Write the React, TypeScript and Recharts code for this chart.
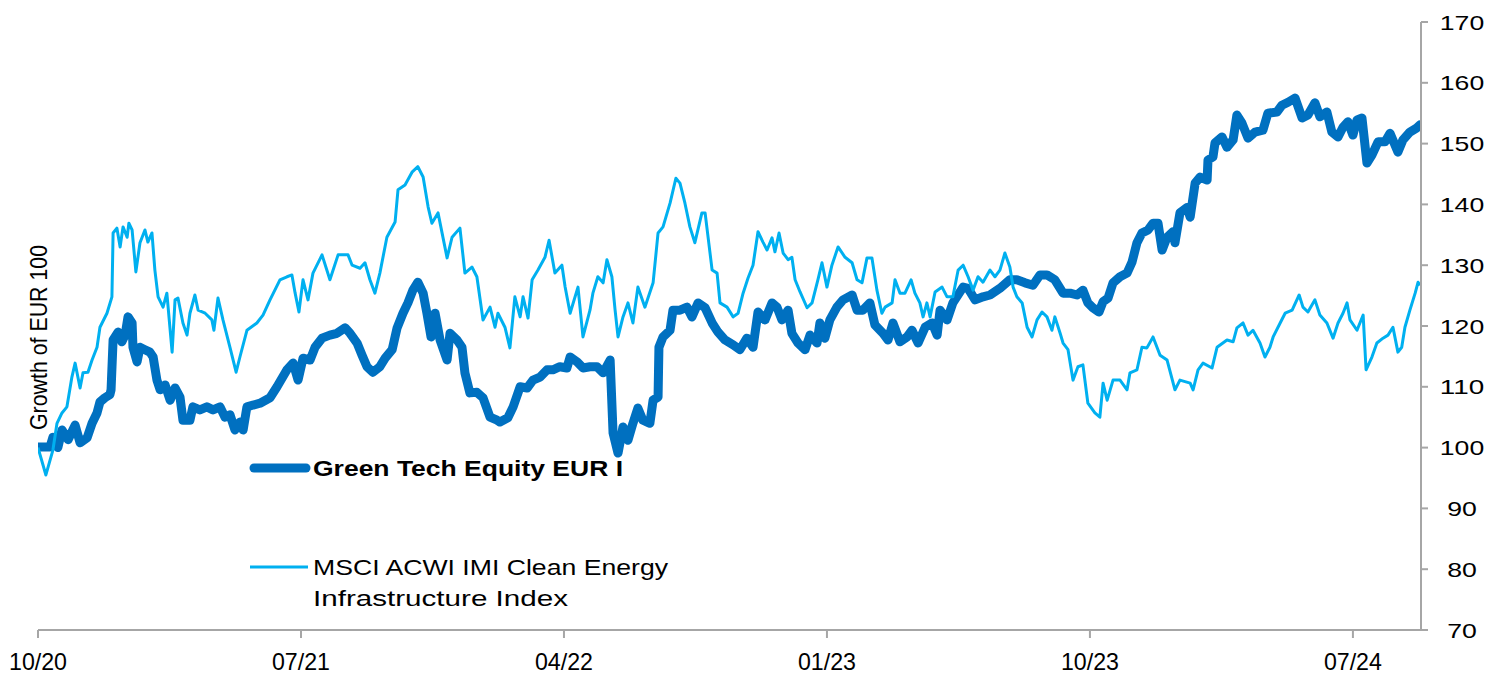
import React from "react";
import { LineChart, Line, XAxis, YAxis, Legend } from "recharts";

// Time in months since the start of October 2020
const tickMonths = [0, 9, 18, 27, 36, 45];
const tickLabels = ["10/20", "07/21", "04/22", "01/23", "10/23", "07/24"];
const yTicks = [70, 80, 90, 100, 110, 120, 130, 140, 150, 160, 170];

const fundName = "Green Tech Equity EUR I";
const indexNameLines = ["MSCI ACWI IMI Clean Energy", "Infrastructure Index"];
const yTitle = "Growth of EUR 100";

const fundMonths = [
  0, 0.41, 0.51, 0.68, 0.82, 1.03, 1.27, 1.44, 1.68, 1.85, 2.02, 2.12, 2.29, 2.46, 2.5, 2.57, 2.74, 2.87, 2.98, 3.08,
  3.22, 3.25, 3.39, 3.49, 3.66, 3.83, 3.94, 4.07, 4.18, 4.35, 4.52, 4.69, 4.86, 4.96, 5.2, 5.3, 5.54, 5.78, 5.99, 6.23,
  6.4, 6.57, 6.74, 6.91, 7.02, 7.15, 7.36, 7.6, 7.94, 8.18, 8.52, 8.73, 8.9, 9.07, 9.31, 9.48, 9.72, 9.99, 10.23, 10.51,
  10.68, 10.92, 11.09, 11.26, 11.46, 11.7, 11.88, 12.12, 12.29, 12.49, 12.66, 12.83, 13.0, 13.18, 13.31, 13.45, 13.59, 13.76, 14.0, 14.1,
  14.34, 14.51, 14.61, 14.78, 15.02, 15.23, 15.47, 15.71, 15.81, 16.08, 16.26, 16.5, 16.74, 16.94, 17.18, 17.42, 17.62, 17.86, 18.1, 18.21,
  18.45, 18.65, 18.89, 19.13, 19.34, 19.58, 19.68, 19.85, 20.02, 20.19, 20.36, 20.53, 20.7, 20.94, 21.05, 21.22, 21.25, 21.39, 21.63, 21.73,
  21.97, 22.21, 22.38, 22.59, 22.83, 23.07, 23.27, 23.51, 23.79, 24.02, 24.26, 24.47, 24.64, 24.88, 25.12, 25.29, 25.46, 25.67, 25.8, 26.01,
  26.25, 26.42, 26.66, 26.76, 26.93, 27.1, 27.34, 27.55, 27.86, 28.03, 28.23, 28.47, 28.64, 28.92, 29.09, 29.26, 29.5, 29.74, 29.91, 30.12,
  30.36, 30.6, 30.77, 30.87, 31.11, 31.31, 31.66, 31.83, 32.07, 32.34, 32.58, 32.92, 33.26, 33.5, 33.78, 34.05, 34.29, 34.53, 34.8, 35.08,
  35.32, 35.56, 35.76, 35.93, 36.1, 36.31, 36.45, 36.62, 36.79, 37.03, 37.27, 37.44, 37.61, 37.78, 37.99, 38.16, 38.33, 38.47, 38.64, 38.84,
  38.91, 39.08, 39.32, 39.43, 39.6, 39.77, 40.01, 40.04, 40.21, 40.28, 40.52, 40.69, 40.9, 41.03, 41.2, 41.41, 41.65, 41.92, 42.09, 42.4,
  42.57, 42.78, 43.02, 43.26, 43.46, 43.7, 43.87, 44.11, 44.28, 44.49, 44.66, 44.83, 45.0, 45.14, 45.31, 45.48, 45.65, 45.86, 46.1, 46.27,
  46.54, 46.71, 46.95, 47.19, 47.3,
];
const fundValues = [
  100.1, 100.1, 101.7, 100, 102.9, 101.3, 103.7, 100.8, 101.6, 104, 105.7, 107.5, 108.2, 108.7, 109.5, 117.7, 119, 117.4, 118.5, 121.5,
  120.5, 116.5, 114.1, 116.5, 116.1, 115.7, 114.9, 111.1, 109.5, 110.3, 107.8, 109.8, 108.3, 104.5, 104.5, 106.7, 106.2, 106.7, 106.2, 106.7,
  105, 105.4, 102.9, 104.2, 102.9, 106.7, 107, 107.3, 108.2, 110, 112.8, 113.9, 111.1, 114.7, 114.4, 116.5, 118, 118.5, 118.8, 119.7,
  118.8, 117.2, 115.2, 113.3, 112.4, 113.3, 114.7, 116.1, 119.7, 122.1, 123.8, 125.9, 127.2, 125.4, 122.1, 118.2, 122.1, 117.7, 114.4, 118.8,
  117.7, 116.5, 112.3, 109, 109.1, 108.2, 105, 104.5, 104.2, 104.9, 106.7, 110, 109.8, 111.1, 111.6, 112.8, 112.8, 113.3, 113.1, 114.9,
  114.1, 113.1, 113.3, 113.3, 112.3, 114.4, 102.4, 99.1, 103.4, 101.2, 104, 106.5, 104.5, 104, 107.8, 108.3, 116.5, 118.2, 119.3, 122.6,
  122.6, 123.1, 121.5, 123.8, 123, 120.5, 119, 117.7, 116.9, 116.1, 118, 116.5, 122.3, 121, 123.8, 123.1, 121, 122.6, 118.8, 117.2,
  116.1, 118.5, 117.2, 120.5, 118, 121, 123.1, 124.3, 125.1, 122.6, 122.6, 123.8, 120.2, 118.8, 117.7, 120.5, 117.4, 118.2, 119.3, 117.2,
  119.8, 120.5, 118.5, 122.6, 121, 123.8, 126.4, 126.2, 124.3, 124.8, 125.1, 126.2, 127.6, 127.6, 127.1, 126.7, 128.4, 128.4, 127.6, 125.4,
  125.4, 125.1, 125.9, 123.8, 123, 122.3, 124, 124.6, 127.1, 128.1, 128.7, 130.5, 133.7, 135.3, 135.8, 136.9, 136.9, 132.5, 134.6, 135.5,
  133.7, 138.6, 139.5, 137.9, 143.5, 144.5, 144, 147.3, 147.8, 150.1, 151.1, 149.4, 150.6, 154.7, 153.4, 150.9, 151.9, 152.2, 155, 155.2,
  156.3, 156.8, 157.5, 154.2, 154.7, 156.7, 154.4, 155.2, 151.9, 151.1, 152.7, 153.6, 151.4, 153.9, 154.2, 146.8, 148.1, 150.3, 150.3, 151.7,
  148.6, 150.6, 151.9, 152.6, 153.1,
];

const indexMonths = [
  0, 0.27, 0.51, 0.65, 0.82, 0.99, 1.16, 1.27, 1.44, 1.54, 1.71, 1.85, 2.02, 2.12, 2.36, 2.53, 2.57, 2.7, 2.81, 2.91,
  3.05, 3.11, 3.22, 3.35, 3.49, 3.66, 3.76, 3.9, 4.0, 4.11, 4.28, 4.41, 4.59, 4.69, 4.79, 4.96, 5.1, 5.2, 5.37, 5.48,
  5.72, 5.95, 6.02, 6.16, 6.33, 6.57, 6.78, 6.91, 7.15, 7.49, 7.7, 7.94, 8.28, 8.52, 8.69, 8.8, 8.93, 9.07, 9.24, 9.41,
  9.72, 9.99, 10.27, 10.61, 10.75, 11.02, 11.19, 11.36, 11.53, 11.7, 11.94, 12.22, 12.32, 12.56, 12.8, 13.0, 13.18, 13.35, 13.48, 13.69,
  14.0, 14.17, 14.44, 14.61, 14.85, 15.02, 15.23, 15.47, 15.64, 15.74, 15.98, 16.15, 16.32, 16.5, 16.6, 16.77, 16.91, 17.11, 17.35, 17.49,
  17.69, 17.93, 18.04, 18.21, 18.48, 18.65, 18.89, 18.99, 19.16, 19.34, 19.47, 19.64, 19.75, 19.85, 20.02, 20.19, 20.36, 20.53, 20.77, 21.05,
  21.22, 21.39, 21.63, 21.83, 21.97, 22.14, 22.31, 22.48, 22.72, 22.83, 23.07, 23.24, 23.34, 23.58, 23.79, 23.96, 24.13, 24.3, 24.47, 24.64,
  24.81, 24.95, 25.12, 25.22, 25.36, 25.5, 25.67, 25.8, 25.91, 26.08, 26.32, 26.49, 26.69, 26.83, 27.0, 27.17, 27.38, 27.62, 27.86, 28.03,
  28.2, 28.37, 28.54, 28.71, 28.88, 28.99, 29.23, 29.33, 29.5, 29.67, 29.88, 30.01, 30.18, 30.29, 30.42, 30.53, 30.7, 30.94, 31.11, 31.31,
  31.49, 31.66, 31.83, 32.0, 32.17, 32.34, 32.58, 32.75, 32.92, 33.09, 33.26, 33.37, 33.5, 33.68, 33.85, 34.02, 34.19, 34.36, 34.53, 34.7,
  34.8, 34.98, 35.08, 35.25, 35.42, 35.59, 35.76, 35.93, 36.17, 36.34, 36.45, 36.59, 36.79, 37.03, 37.27, 37.37, 37.61, 37.78, 37.95, 38.16,
  38.4, 38.64, 38.91, 39.08, 39.43, 39.53, 39.7, 39.87, 40.18, 40.35, 40.69, 40.9, 41.03, 41.24, 41.41, 41.58, 41.82, 41.99, 42.16, 42.27,
  42.51, 42.68, 42.92, 43.16, 43.29, 43.46, 43.7, 43.87, 44.11, 44.32, 44.49, 44.66, 44.8, 44.9, 45.14, 45.35, 45.45, 45.65, 45.82, 46.03,
  46.2, 46.37, 46.54, 46.67, 46.78, 46.95, 47.13, 47.23, 47.3,
];
const indexValues = [
  100, 95.5, 99.6, 104, 105.7, 106.7, 111.6, 113.9, 109.8, 112.3, 112.4, 114.4, 116.5, 119.8, 122.1, 124.8, 135.3, 136.1, 133, 136.3,
  134.6, 136.9, 135.8, 128.9, 133.7, 135.8, 133.8, 135.3, 129.2, 124.8, 123.1, 125.4, 115.7, 124.3, 124.6, 120.5, 118.5, 122.1, 125.1, 122.6,
  122.1, 121, 119.3, 124.6, 121, 116.5, 112.4, 114.9, 119.3, 120.5, 121.8, 124.3, 127.6, 128.1, 128.4, 125.4, 122.3, 127.6, 124.3, 128.7,
  131.7, 127.6, 131.7, 131.7, 130, 129.5, 130.4, 127.6, 125.4, 128.7, 134.6, 137.1, 142.4, 143.2, 145.3, 146.2, 144.5, 139.6, 136.9, 138.6,
  131.2, 134.6, 136.1, 128.7, 129.7, 128.1, 121, 123.1, 119.8, 122.1, 119.8, 116.4, 124.8, 121.5, 124.8, 121.3, 127.6, 129.2, 131.3, 134.1,
  128.7, 130, 126.4, 122.1, 126.4, 118.2, 122.6, 125.4, 128.1, 127.1, 130.9, 128.1, 122.6, 118.2, 121.5, 123.8, 120.5, 126.4, 123.1, 127.1,
  135.3, 136.3, 140.2, 144.3, 143.5, 140.2, 136.3, 133.7, 138.6, 138.6, 129.2, 128.7, 123.8, 123.1, 121.5, 122.1, 125.4, 127.9, 130, 135.5,
  133.8, 132.5, 134.5, 132.2, 135.3, 132, 130.9, 131.3, 127.6, 125.6, 123, 123.8, 127.6, 130.4, 126.4, 130, 133, 131.3, 130.4, 127.6,
  127.1, 131.2, 131.2, 125.9, 122.1, 123.1, 123.8, 127.6, 125.4, 125.4, 127.6, 125.4, 123.8, 121.5, 123.8, 121.5, 125.6, 126.4, 124.8, 124.8,
  129.2, 130, 128.1, 125.9, 128.1, 127.2, 129.2, 128.1, 129.2, 132, 129.7, 126.4, 124.8, 123.8, 119.8, 118.2, 121, 122.3, 121.5, 119.3,
  121.5, 118.8, 117.2, 116.1, 111.1, 113.3, 113.6, 107.3, 105.7, 105, 110.6, 107.8, 111.1, 111.1, 109.5, 112.3, 112.8, 116.5, 116.4, 118.2,
  115.2, 114.4, 109.5, 111.1, 110.6, 109.5, 112.8, 113.9, 113.1, 116.5, 117.7, 117.4, 119.7, 120.5, 118.5, 119.3, 117.2, 114.9, 116.5, 118.2,
  120.5, 122.1, 122.6, 125.1, 123.1, 122.3, 124.3, 121.8, 120.5, 118, 120.5, 122.1, 123.8, 121, 119.3, 121.8, 112.8, 114.9, 117.2, 118,
  118.5, 119.8, 115.7, 116.5, 119.8, 122.6, 125.4, 127.2, 126.7,
];

const fundData = fundMonths.map((t, i) => ({ t, v: fundValues[i] }));
const indexData = indexMonths.map((t, i) => ({ t, v: indexValues[i] }));

const FUND_COLOR = "#0070C0";
const INDEX_COLOR = "#00B0F0";
const AXIS_COLOR = "#A6A6A6";
const FONT = "'Liberation Sans', Arial, sans-serif";

const XTick = (props: any) => {
  const { x, payload } = props;
  const i = tickMonths.indexOf(payload.value);
  const label = i >= 0 ? tickLabels[i] : String(payload.value);
  return (
    <text
      x={x}
      y={653}
      textAnchor="middle"
      dominantBaseline="central"
      fontFamily={FONT}
      fontSize={24}
      fill="#000"
      textLength={58}
      lengthAdjust="spacingAndGlyphs"
    >
      {label}
    </text>
  );
};

const YTick = (props: any) => {
  const { y, payload } = props;
  const label = String(payload.value);
  return (
    <text
      x={1454}
      y={y}
      textAnchor="middle"
      dominantBaseline="central"
      fontFamily={FONT}
      fontSize={21}
      fill="#000"
      textLength={label.length * 14.8}
      lengthAdjust="spacingAndGlyphs"
    >
      {label}
    </text>
  );
};

const LegendContent = () => (
  <svg width={460} height={170} style={{ overflow: "visible" }}>
    <line x1={4} y1={20} x2={56} y2={20} stroke={FUND_COLOR} strokeWidth={9} strokeLinecap="round" />
    <text
      x={63}
      y={20}
      dominantBaseline="central"
      fontFamily={FONT}
      fontWeight="bold"
      fontSize={22}
      fill="#000"
      textLength={310}
      lengthAdjust="spacingAndGlyphs"
    >
      {fundName}
    </text>
    <line x1={0} y1={119} x2={58} y2={119} stroke={INDEX_COLOR} strokeWidth={3} />
    <text
      x={63}
      y={119}
      dominantBaseline="central"
      fontFamily={FONT}
      fontSize={22}
      fill="#000"
      textLength={355}
      lengthAdjust="spacingAndGlyphs"
    >
      {indexNameLines[0]}
    </text>
    <text
      x={63}
      y={150}
      dominantBaseline="central"
      fontFamily={FONT}
      fontSize={22}
      fill="#000"
      textLength={255}
      lengthAdjust="spacingAndGlyphs"
    >
      {indexNameLines[1]}
    </text>
  </svg>
);

export default function App() {
  return (
    <div style={{ position: "relative", width: 1477, height: 665, background: "#fff" }}>
      <LineChart width={1477} height={665} margin={{ top: 14, right: 0, bottom: 0, left: 30 }}>
        <XAxis
          dataKey="t"
          type="number"
          domain={[0, 47.33]}
          allowDataOverflow
          ticks={tickMonths}
          tick={<XTick />}
          tickSize={8}
          height={43}
          axisLine={{ stroke: AXIS_COLOR, strokeWidth: 2 }}
          tickLine={{ stroke: AXIS_COLOR, strokeWidth: 2 }}
        />
        <YAxis
          orientation="right"
          type="number"
          domain={[70, 170]}
          allowDataOverflow
          ticks={yTicks}
          tick={<YTick />}
          tickSize={7}
          width={64}
          axisLine={{ stroke: AXIS_COLOR, strokeWidth: 2 }}
          tickLine={{ stroke: AXIS_COLOR, strokeWidth: 2 }}
        />
        <Legend
          layout="vertical"
          align="center"
          verticalAlign="middle"
          content={<LegendContent />}
          wrapperStyle={{ position: "absolute", left: 242, top: 440, width: 460, height: 170 }}
        />
        <Line
          data={fundData}
          dataKey="v"
          type="linear"
          stroke={FUND_COLOR}
          strokeWidth={9}
          strokeLinejoin="round"
          strokeLinecap="round"
          dot={false}
          activeDot={false}
          isAnimationActive={false}
        />
        <Line
          data={indexData}
          dataKey="v"
          type="linear"
          stroke={INDEX_COLOR}
          strokeWidth={3}
          strokeLinejoin="round"
          dot={false}
          activeDot={false}
          isAnimationActive={false}
        />
      </LineChart>
      <svg
        width={60}
        height={665}
        style={{ position: "absolute", left: 0, top: 0, pointerEvents: "none" }}
      >
        <text
          x={30}
          y={329.5}
          transform="rotate(-90 30 329.5)"
          textAnchor="middle"
          dominantBaseline="central"
          fontFamily={FONT}
          fontSize={24}
          fill="#000"
          textLength={185}
          lengthAdjust="spacingAndGlyphs"
        >
          {yTitle}
        </text>
      </svg>
    </div>
  );
}
